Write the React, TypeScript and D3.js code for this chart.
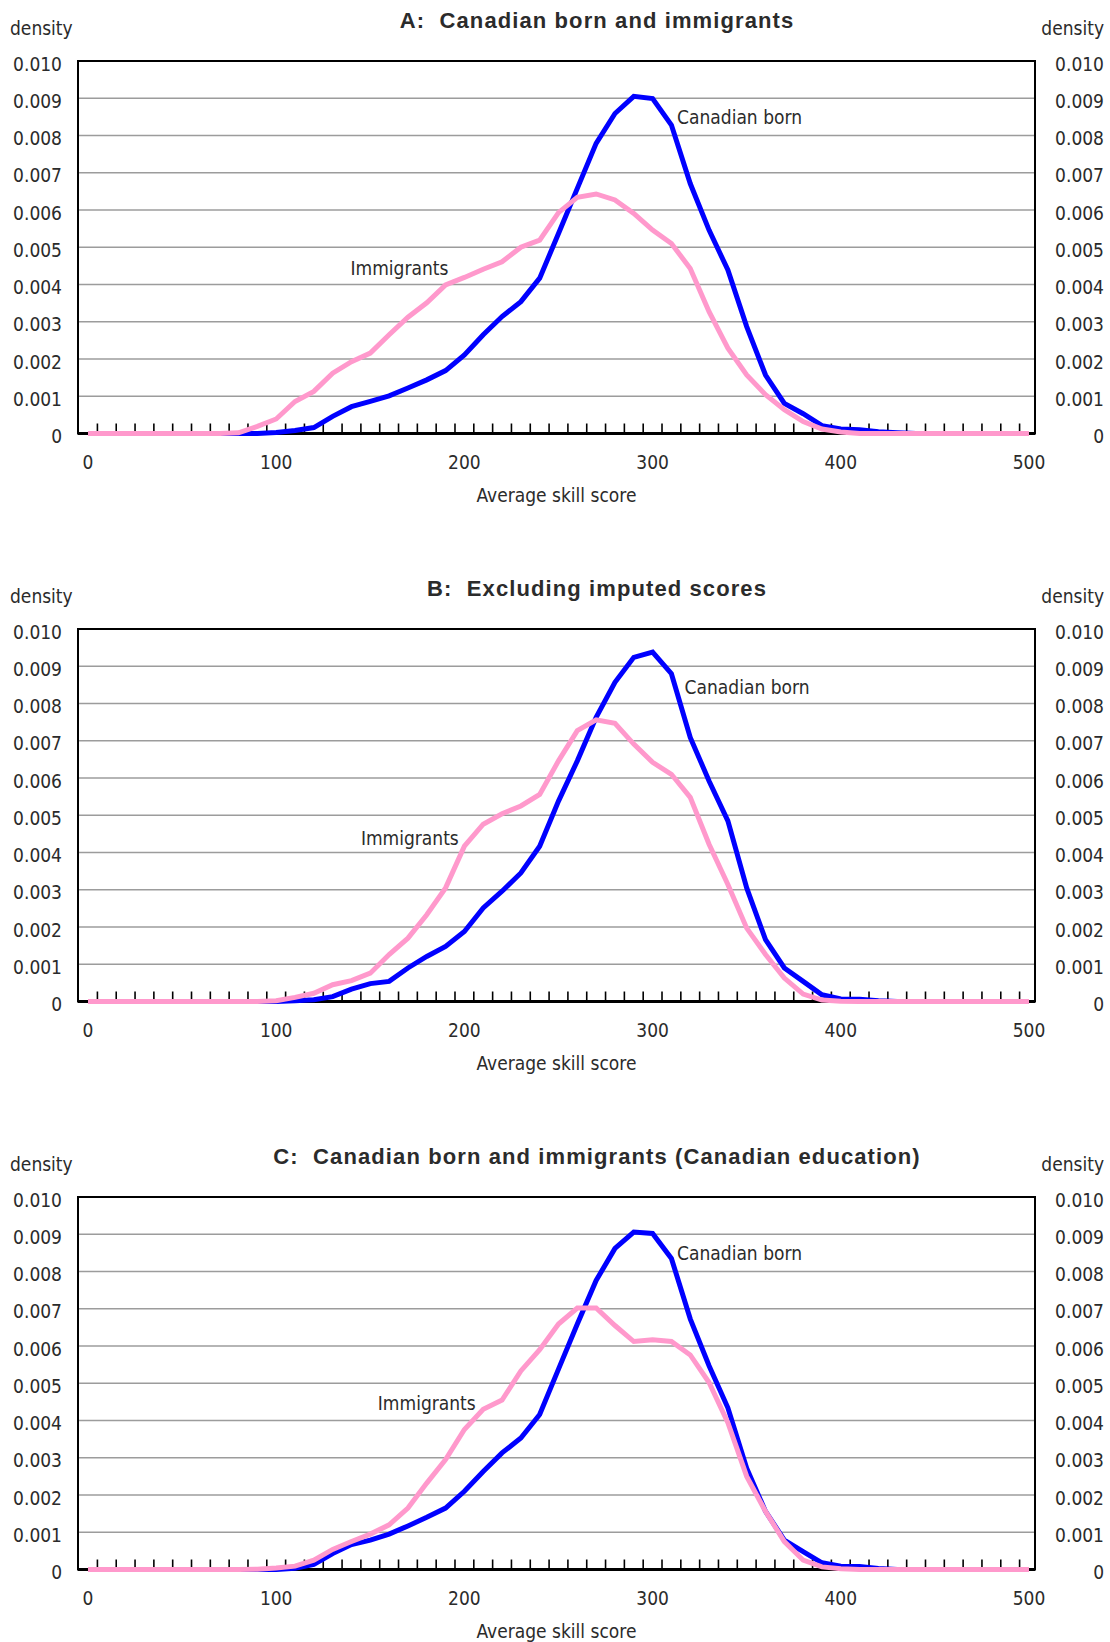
import * as React from "react";
import * as d3 from "d3";

// x categories (average skill score)
const scores = [
  0, 10, 20, 30, 40, 50, 60, 70, 80, 90,
  100, 110, 120, 130, 140, 150, 160, 170, 180, 190,
  200, 210, 220, 230, 240, 250, 260, 270, 280, 290,
  300, 310, 320, 330, 340, 350, 360, 370, 380, 390,
  400, 410, 420, 430, 440, 450, 460, 470, 480, 490, 500,
];
const xTickValues = [0, 100, 200, 300, 400, 500];
const minorTicks = [
  5, 15, 25, 35, 45, 55, 65, 75, 85, 95, 105, 115, 125, 135, 145, 155, 165, 175, 185, 195,
  205, 215, 225, 235, 245, 255, 265, 275, 285, 295, 305, 315, 325, 335, 345, 355, 365, 375, 385, 395,
  405, 415, 425, 435, 445, 455, 465, 475, 485, 495,
];
const yTickValues = [0, 0.001, 0.002, 0.003, 0.004, 0.005, 0.006, 0.007, 0.008, 0.009, 0.01];
const yTickLabels = ["0", "0.001", "0.002", "0.003", "0.004", "0.005", "0.006", "0.007", "0.008", "0.009", "0.010"];

const panelTitles = [
  "A:  Canadian born and immigrants",
  "B:  Excluding imputed scores",
  "C:  Canadian born and immigrants (Canadian education)",
];
const seriesNames = ["Canadian born", "Immigrants"];

// Panel A
const canadianA = [
  0, 0, 0, 0, 0, 0, 0, 0, 0, 0,
  0.00003, 0.00008, 0.00016, 0.00046, 0.00072, 0.00086, 0.00101, 0.00122, 0.00144, 0.00169,
  0.00211, 0.00265, 0.00314, 0.00354, 0.00417, 0.00537, 0.00658, 0.00779, 0.00859, 0.00905,
  0.00899, 0.00828, 0.00671, 0.00546, 0.00439, 0.00287, 0.00157, 0.00081, 0.00053, 0.00021,
  0.00012, 0.0001, 0.00005, 0.00002, 0, 0, 0, 0, 0, 0, 0,
];
const immigrantsA = [
  0, 0, 0, 0, 0, 0, 0, 0, 0.00002, 0.00019,
  0.00039, 0.00086, 0.00113, 0.00162, 0.00193, 0.00216, 0.00265, 0.00312, 0.00351, 0.00399,
  0.00419, 0.00441, 0.00461, 0.005, 0.00519, 0.00593, 0.00634, 0.00643, 0.00627, 0.00591,
  0.00546, 0.0051, 0.00443, 0.00327, 0.00229, 0.00157, 0.00104, 0.00064, 0.00032, 0.00012,
  0.00004, 0, 0, 0, 0, 0, 0, 0, 0, 0, 0,
];

// Panel B
const canadianB = [
  0, 0, 0, 0, 0, 0, 0, 0, 0, 0,
  0, 0.00002, 0.00005, 0.00013, 0.00033, 0.00048, 0.00054, 0.0009, 0.00121, 0.00148,
  0.00188, 0.00251, 0.00296, 0.00345, 0.00417, 0.00538, 0.00646, 0.00763, 0.00857, 0.00924,
  0.00938, 0.0088, 0.00709, 0.00592, 0.00485, 0.00305, 0.00166, 0.0009, 0.00054, 0.00018,
  0.00007, 0.00006, 0.00002, 0, 0, 0, 0, 0, 0, 0, 0,
];
const immigrantsB = [
  0, 0, 0, 0, 0, 0, 0, 0, 0, 0,
  0.00002, 0.00011, 0.00022, 0.00045, 0.00056, 0.00076, 0.00126, 0.0017, 0.00233, 0.00305,
  0.00417, 0.00476, 0.00504, 0.00525, 0.00556, 0.00646, 0.00727, 0.00756, 0.00747, 0.00691,
  0.00642, 0.0061, 0.00548, 0.00422, 0.00314, 0.00197, 0.00126, 0.00063, 0.0002, 0.00004,
  0.00001, 0, 0, 0, 0, 0, 0, 0, 0, 0, 0,
];

// Panel C
const canadianC = [
  0, 0, 0, 0, 0, 0, 0, 0, 0, 0,
  0, 0.00003, 0.00014, 0.00043, 0.00067, 0.00079, 0.00095, 0.00117, 0.0014, 0.00165,
  0.0021, 0.00263, 0.00313, 0.00353, 0.00416, 0.00538, 0.00659, 0.00776, 0.00862, 0.00906,
  0.00902, 0.00835, 0.00673, 0.00547, 0.00434, 0.00272, 0.00156, 0.00079, 0.00048, 0.00018,
  0.00009, 0.00008, 0.00003, 0, 0, 0, 0, 0, 0, 0, 0,
];
const immigrantsC = [
  0, 0, 0, 0, 0, 0, 0, 0, 0, 0.00001,
  0.00004, 0.00009, 0.00025, 0.00054, 0.00075, 0.00095, 0.0012, 0.00165, 0.00232, 0.00295,
  0.00376, 0.0043, 0.00455, 0.00533, 0.0059, 0.00659, 0.00702, 0.00702, 0.00655, 0.00612,
  0.00617, 0.00612, 0.00576, 0.00502, 0.00394, 0.0025, 0.00156, 0.00075, 0.00025, 0.00007,
  0.00002, 0, 0, 0, 0, 0, 0, 0, 0, 0, 0,
];

// label anchors [score, density] for "Canadian born" and "Immigrants"
const canadianLabelPos = [[313, 0.0083], [317, 0.00826], [313, 0.0083]];
const immigrantsLabelPos = [[139.5, 0.00426], [145, 0.00421], [154, 0.00428]];

const panels = [
  { title: panelTitles[0], canadian: canadianA, immigrants: immigrantsA },
  { title: panelTitles[1], canadian: canadianB, immigrants: immigrantsB },
  { title: panelTitles[2], canadian: canadianC, immigrants: immigrantsC },
];

const WIDTH = 1110;
const HEIGHT = 1642;
const FRAME_LEFT = 78;
const FRAME_RIGHT = 1035;
const PANEL_TOP = 61;
const PANEL_STEP = 568;
const PLOT_H = 372.5;

const condensed = "'DejaVu Sans Condensed', 'Liberation Sans', sans-serif";
const boldFont = "'Liberation Sans', Arial, sans-serif";
const textColor = "#2b2b2b";

const x = d3.scaleLinear().domain([0, 500]).range([88, 1029]);

function Panel({ index }: { index: number }) {
  const p = panels[index];
  const top = PANEL_TOP + index * PANEL_STEP;
  const bottom = top + PLOT_H;
  const y = d3.scaleLinear().domain([0, 0.01]).range([bottom, top]);
  const line = d3
    .line<number>()
    .x((_, i) => x(scores[i]))
    .y((d) => y(d));
  const labelStyle = { fontFamily: condensed, fontStretch: "condensed", fontSize: 19, fill: textColor };
  const midX = (FRAME_LEFT + FRAME_RIGHT) / 2;

  return (
    <g>
      <text
        x={597}
        y={top - 33}
        textAnchor="middle"
        style={{ fontFamily: boldFont, fontWeight: 700, fontSize: 22, letterSpacing: 1.1, fill: textColor, whiteSpace: "pre" }}
      >
        {p.title}
      </text>
      <text x={10} y={top - 26} style={labelStyle}>density</text>
      <text x={1104} y={top - 26} textAnchor="end" style={labelStyle}>density</text>

      {/* gridlines */}
      {yTickValues.slice(1, -1).map((v) => (
        <line key={v} x1={FRAME_LEFT} x2={FRAME_RIGHT} y1={y(v)} y2={y(v)} stroke="#9c9c9c" strokeWidth={1.6} />
      ))}

      {/* y tick labels */}
      {yTickValues.map((v, i) => (
        <g key={"yl" + v}>
          <text x={62} y={y(v) + 9.5} textAnchor="end" style={labelStyle}>{yTickLabels[i]}</text>
          <text x={1104} y={y(v) + 9.5} textAnchor="end" style={labelStyle}>{yTickLabels[i]}</text>
        </g>
      ))}

      {/* frame */}
      <rect x={FRAME_LEFT} y={top} width={FRAME_RIGHT - FRAME_LEFT} height={PLOT_H} fill="none" stroke="#000" strokeWidth={2} />
      <line x1={FRAME_LEFT} x2={FRAME_RIGHT} y1={bottom} y2={bottom} stroke="#000" strokeWidth={3} />

      {/* minor ticks */}
      {minorTicks.map((t) => (
        <line key={t} x1={x(t)} x2={x(t)} y1={bottom} y2={bottom - 10} stroke="#000" strokeWidth={1.6} />
      ))}

      {/* x tick labels */}
      {xTickValues.map((t) => (
        <text key={t} x={x(t)} y={bottom + 35} textAnchor="middle" style={labelStyle}>{t}</text>
      ))}
      <text x={midX} y={bottom + 68} textAnchor="middle" style={labelStyle}>Average skill score</text>

      {/* series */}
      <path d={line(p.canadian) || ""} fill="none" stroke="#0000ff" strokeWidth={5} />
      <path d={line(p.immigrants) || ""} fill="none" stroke="#ff99cc" strokeWidth={5} />

      <text x={x(canadianLabelPos[index][0])} y={y(canadianLabelPos[index][1])} style={labelStyle}>{seriesNames[0]}</text>
      <text x={x(immigrantsLabelPos[index][0])} y={y(immigrantsLabelPos[index][1])} style={labelStyle}>{seriesNames[1]}</text>
    </g>
  );
}

export default function App() {
  return (
    <svg
      width={WIDTH}
      height={HEIGHT}
      viewBox={`0 0 ${WIDTH} ${HEIGHT}`}
      style={{ position: "absolute", left: 0, top: 0, background: "#fff" }}
    >
      <rect x={0} y={0} width={WIDTH} height={HEIGHT} fill="#fff" />
      {panels.map((_, i) => (
        <Panel key={i} index={i} />
      ))}
    </svg>
  );
}
